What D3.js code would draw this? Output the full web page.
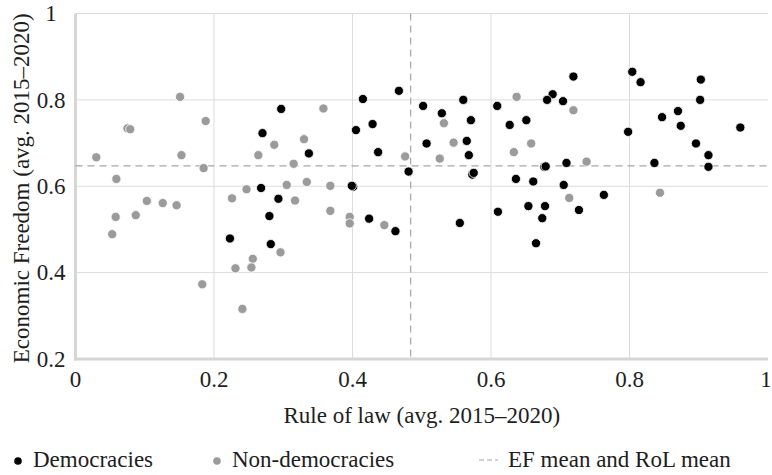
<!DOCTYPE html>
<html>
<head>
<meta charset="utf-8">
<script src="https://cdn.jsdelivr.net/npm/d3@7"></script>
<style>
  html, body { margin: 0; padding: 0; background: #fff; }
  svg { display: block; }
  svg text { font-family: "Liberation Serif", "DejaVu Serif", serif; fill: #1e1e1e; }
</style>
</head>
<body>
<svg id="chart" width="772" height="475"></svg>
<script>
// Democracies: [rule of law, economic freedom]
const democracies = [
  [0.719, 0.854], [0.804, 0.865], [0.816, 0.841], [0.903, 0.847], [0.689, 0.813],
  [0.681, 0.800], [0.704, 0.797], [0.902, 0.800], [0.870, 0.774], [0.847, 0.760],
  [0.874, 0.740], [0.960, 0.736], [0.798, 0.726], [0.651, 0.753], [0.896, 0.699],
  [0.914, 0.672], [0.914, 0.645], [0.836, 0.654], [0.709, 0.654], [0.677, 0.645],
  [0.679, 0.646], [0.661, 0.611], [0.705, 0.603], [0.763, 0.580], [0.678, 0.554],
  [0.727, 0.545], [0.674, 0.526], [0.665, 0.468], [0.654, 0.554], [0.636, 0.617],
  [0.610, 0.541], [0.555, 0.515], [0.609, 0.786], [0.627, 0.742], [0.560, 0.800],
  [0.571, 0.753], [0.565, 0.705], [0.568, 0.672], [0.573, 0.627], [0.575, 0.631],
  [0.502, 0.786], [0.507, 0.699], [0.529, 0.769], [0.467, 0.821], [0.481, 0.634],
  [0.405, 0.730], [0.415, 0.802], [0.429, 0.744], [0.437, 0.679], [0.401, 0.599],
  [0.399, 0.601], [0.337, 0.676], [0.424, 0.525], [0.462, 0.496], [0.297, 0.779],
  [0.270, 0.723], [0.268, 0.596], [0.293, 0.571], [0.280, 0.531], [0.223, 0.479],
  [0.282, 0.466]
];
// Non-democracies: [rule of law, economic freedom]
const nonDemocracies = [
  [0.358, 0.780], [0.330, 0.709], [0.334, 0.610], [0.368, 0.601], [0.476, 0.669],
  [0.532, 0.746], [0.526, 0.664], [0.546, 0.701], [0.637, 0.807], [0.633, 0.679],
  [0.658, 0.699], [0.719, 0.776], [0.738, 0.657], [0.713, 0.573], [0.844, 0.585],
  [0.368, 0.543], [0.396, 0.529], [0.396, 0.514], [0.446, 0.510], [0.151, 0.807],
  [0.188, 0.751], [0.075, 0.734], [0.079, 0.732], [0.030, 0.667], [0.153, 0.672],
  [0.185, 0.642], [0.059, 0.617], [0.103, 0.566], [0.126, 0.561], [0.146, 0.556],
  [0.058, 0.529], [0.087, 0.533], [0.053, 0.489], [0.183, 0.373], [0.287, 0.696],
  [0.264, 0.672], [0.315, 0.652], [0.305, 0.603], [0.226, 0.572], [0.247, 0.593],
  [0.317, 0.567], [0.296, 0.447], [0.256, 0.432], [0.231, 0.410], [0.254, 0.412],
  [0.241, 0.316]
];
const efMean = 0.647;
const rolMean = 0.484;
const xTicks = [0, 0.2, 0.4, 0.6, 0.8, 1];
const yTicks = [0.2, 0.4, 0.6, 0.8, 1];
const xTitle = "Rule of law (avg. 2015–2020)";
const yTitle = "Economic Freedom (avg. 2015–2020)";
const legendLabels = ["Democracies", "Non-democracies", "EF mean and RoL mean"];

const svg = d3.select("#chart");
const FONT = 23;
const pLeft = 75.5, pRight = 768, pTop = 13.5, pBottom = 359;
const x = d3.scaleLinear().domain([0, 1]).range([pLeft, pRight]);
const y = d3.scaleLinear().domain([0.2, 1]).range([pBottom, pTop]);

const colDem = "#000000", colNon = "#9b9b9b", grid = "#dcdcdc";

// gridlines
svg.append("g").selectAll("line").data(xTicks.filter(d => d > 0 && d < 1)).join("line")
  .attr("x1", d => x(d)).attr("x2", d => x(d)).attr("y1", pTop).attr("y2", pBottom)
  .attr("stroke", grid).attr("stroke-width", 1);
svg.append("g").selectAll("line").data(yTicks.filter(d => d > 0.2)).join("line")
  .attr("x1", pLeft).attr("x2", pRight).attr("y1", d => y(d)).attr("y2", d => y(d))
  .attr("stroke", grid).attr("stroke-width", 1);

// axis lines (thick light gray)
svg.append("line").attr("x1", pLeft).attr("x2", pLeft).attr("y1", pTop).attr("y2", pBottom + 1.5)
  .attr("stroke", "#d6d6d6").attr("stroke-width", 3);
svg.append("line").attr("x1", pLeft - 1.5).attr("x2", pRight).attr("y1", pBottom).attr("y2", pBottom)
  .attr("stroke", "#d6d6d6").attr("stroke-width", 3);

// mean lines
svg.append("line").attr("x1", pLeft).attr("x2", pRight).attr("y1", y(efMean)).attr("y2", y(efMean))
  .attr("stroke", "#a6a6a6").attr("stroke-width", 1.2).attr("stroke-dasharray", "7,5");
svg.append("line").attr("x1", x(rolMean)).attr("x2", x(rolMean)).attr("y1", pTop).attr("y2", pBottom)
  .attr("stroke", "#a6a6a6").attr("stroke-width", 1.2).attr("stroke-dasharray", "7,5");

// tick labels
svg.append("g").selectAll("text").data(xTicks).join("text")
  .attr("x", d => d === 1 ? x(d) - 2 : x(d)).attr("y", 387).attr("text-anchor", "middle")
  .attr("font-size", FONT).text(d => d3.format("~g")(d));
svg.append("g").selectAll("text").data(yTicks).join("text")
  .attr("x", 51).attr("y", d => y(d)).attr("dy", "0.34em").attr("text-anchor", "middle")
  .attr("font-size", FONT).text(d => d3.format("~g")(d));

// axis titles
svg.append("text").attr("x", (pLeft + pRight) / 2).attr("y", 423).attr("text-anchor", "middle")
  .attr("font-size", FONT).text(xTitle);
svg.append("text").attr("transform", `translate(29,${(pTop + pBottom) / 2 + 2}) rotate(-90)`)
  .attr("text-anchor", "middle").attr("font-size", FONT).text(yTitle);

// points
const pts = svg.append("g");
pts.selectAll("circle.non").data(nonDemocracies).join("circle").attr("class", "non")
  .attr("cx", d => x(d[0])).attr("cy", d => y(d[1])).attr("r", 4.6)
  .attr("fill", colNon).attr("stroke", "#fff").attr("stroke-width", 0.8);
pts.selectAll("circle.dem").data(democracies).join("circle").attr("class", "dem")
  .attr("cx", d => x(d[0])).attr("cy", d => y(d[1])).attr("r", 4.6)
  .attr("fill", colDem).attr("stroke", "#fff").attr("stroke-width", 0.8);

// legend
const lg = svg.append("g");
lg.append("circle").attr("cx", 18).attr("cy", 461).attr("r", 3.8).attr("fill", colDem);
lg.append("text").attr("x", 33).attr("y", 467).attr("font-size", FONT).text(legendLabels[0]);
lg.append("circle").attr("cx", 217).attr("cy", 461).attr("r", 3.8).attr("fill", colNon);
lg.append("text").attr("x", 232).attr("y", 467).attr("font-size", FONT).text(legendLabels[1]);
lg.append("line").attr("x1", 479).attr("x2", 498).attr("y1", 460).attr("y2", 460)
  .attr("stroke", "#a6a6a6").attr("stroke-width", 1.2).attr("stroke-dasharray", "5,3");
lg.append("text").attr("x", 508).attr("y", 467).attr("font-size", FONT).text(legendLabels[2]);
</script>
</body>
</html>
